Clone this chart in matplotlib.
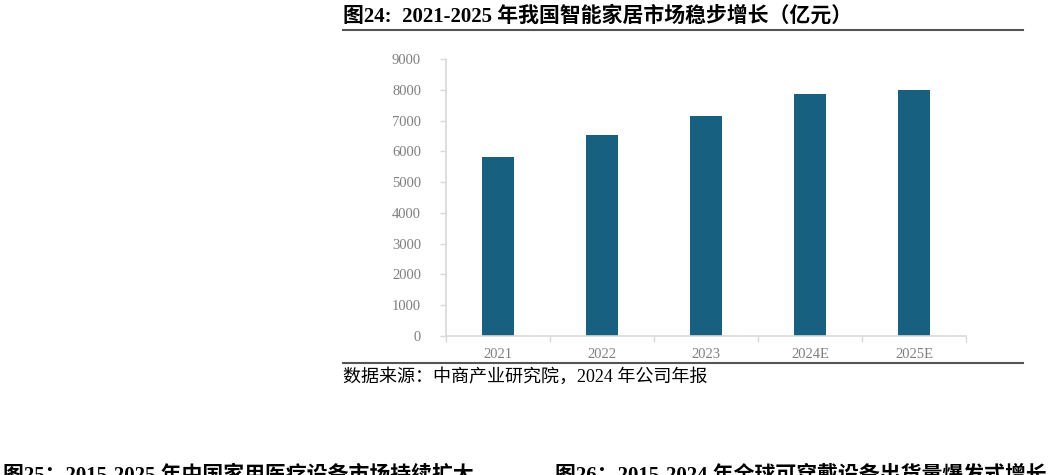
import matplotlib
matplotlib.use("Agg")
import matplotlib.pyplot as plt
from matplotlib.lines import Line2D

# 数据
years = ["2021", "2022", "2023", "2024E", "2025E"]
market_size = [5800, 6515, 7140, 7850, 8000]  # 亿元
y_ticks = [0, 1000, 2000, 3000, 4000, 5000, 6000, 7000, 8000, 9000]

title = "图24:  2021-2025 年我国智能家居市场稳步增长（亿元）"
source = "数据来源：中商产业研究院，2024 年公司年报"
next_left = "图25：2015-2025 年中国家用医疗设备市场持续扩大"
next_right = "图26：2015-2024 年全球可穿戴设备出货量爆发式增长"

W, H = 1049, 475
bar_color = "#17607F"
axis_color = "#D9D9D9"
tick_color = "#7F7F7F"
fam = ["Liberation Serif", "Noto Sans CJK SC", "DejaVu Sans"]
plt.rcParams["font.family"] = fam


def fx(x):
    return x / W


def fy(y):
    return 1 - y / H


fig = plt.figure(figsize=(W / 100, H / 100), dpi=100)
fig.patch.set_facecolor("white")

ax = fig.add_axes([fx(446), fy(336), fx(966) - fx(446), fy(59) - fy(336)])
x = list(range(len(years)))
ax.bar(x, market_size, width=0.31, color=bar_color, zorder=2)

ax.set_xlim(-0.5, len(years) - 0.5)
ax.set_ylim(0, 9000)
ax.set_yticks(y_ticks)
ax.set_yticklabels([str(v) for v in y_ticks])
ax.set_xticks(x)
ax.set_xticklabels(years)
ax.set_xticks([i - 0.5 for i in range(len(years) + 1)], minor=True)
ax.tick_params(axis="x", which="major", length=0, pad=9, labelsize=10.5, labelcolor=tick_color)
ax.tick_params(axis="x", which="minor", length=4, width=1, color=axis_color, direction="out")
ax.tick_params(axis="y", length=4, width=1, color=axis_color, pad=14, labelsize=10.5, labelcolor=tick_color)

for s in ["top", "right"]:
    ax.spines[s].set_visible(False)
for s in ["left", "bottom"]:
    ax.spines[s].set_color(axis_color)
    ax.spines[s].set_linewidth(1.2)

# 标题与分隔线
fig.text(fx(343), fy(16), title, fontsize=15, fontweight="bold", color="black",
         ha="left", va="center")
fig.add_artist(Line2D([fx(343), fx(1023)], [fy(30), fy(30)], color="#555555", lw=1.5))
fig.add_artist(Line2D([fx(343), fx(1023)], [fy(363), fy(363)], color="#555555", lw=1.5))
fig.text(fx(343), fy(377), source, fontsize=13, color="black", ha="left", va="center")

# 下一页图题（被裁切）
fig.text(fx(3), fy(465), next_left, fontsize=15, fontweight="bold", ha="left", va="top")
fig.text(fx(555), fy(465), next_right, fontsize=15, fontweight="bold", ha="left", va="top")

fig.savefig("out.png", dpi=100, facecolor="white")
